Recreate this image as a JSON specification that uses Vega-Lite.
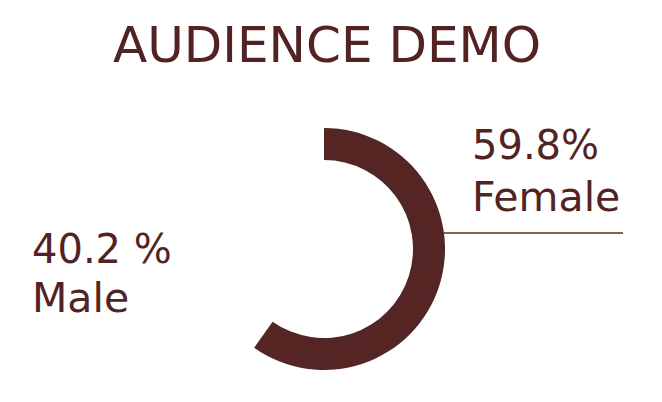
{
  "$schema": "https://vega.github.io/schema/vega-lite/v6.json",
  "width": 648,
  "height": 498,
  "autosize": "none",
  "padding": 0,
  "background": "white",
  "config": {"view": {"stroke": null}},
  "data": {"values": [
    {"gender": "Female", "pct": 59.8, "label": "59.8%"},
    {"gender": "Male", "pct": 40.2, "label": "40.2 %"}
  ]},
  "layer": [
    {
      "transform": [{"filter": "datum.gender == 'Female'"}],
      "mark": {"type": "arc", "radius": 121, "radius2": 89, "color": "#542525"},
      "encoding": {"theta": {"field": "pct", "type": "quantitative", "scale": {"domain": [0, 100]}}}
    },
    {
      "transform": [{"filter": "datum.gender == 'Female'"}],
      "mark": {"type": "arc", "radius": 100.5, "radius2": 99.6, "color": "#6a2616"},
      "encoding": {"theta": {"field": "pct", "type": "quantitative", "scale": {"domain": [0, 100]}}}
    },
    {
      "transform": [{"filter": "datum.gender == 'Female'"}],
      "mark": {"type": "arc", "radius": 111.5, "radius2": 110.6, "color": "#6a2616"},
      "encoding": {"theta": {"field": "pct", "type": "quantitative", "scale": {"domain": [0, 100]}}}
    },
    {
      "transform": [{"filter": "datum.gender == 'Female'"}],
      "mark": {"type": "rule", "color": "#6a2a18", "strokeWidth": 1.5},
      "encoding": {"x": {"value": 444}, "x2": {"value": 623}, "y": {"value": 233}}
    },
    {
      "transform": [{"filter": "datum.gender == 'Female'"}],
      "mark": {"type": "text", "text": "AUDIENCE DEMO", "x": 327, "y": 62, "align": "center", "baseline": "alphabetic", "font": "DejaVu Sans", "fontSize": 50, "color": "#532323"},
      "encoding": {}
    },
    {
      "transform": [{"filter": "datum.gender == 'Female'"}],
      "mark": {"type": "text", "x": 472, "y": 159, "align": "left", "baseline": "alphabetic", "font": "DejaVu Sans", "fontSize": 40, "color": "#532323"},
      "encoding": {"text": {"field": "label"}}
    },
    {
      "transform": [{"filter": "datum.gender == 'Female'"}],
      "mark": {"type": "text", "x": 472, "y": 211, "align": "left", "baseline": "alphabetic", "font": "DejaVu Sans", "fontSize": 41, "color": "#532323"},
      "encoding": {"text": {"field": "gender"}}
    },
    {
      "transform": [{"filter": "datum.gender == 'Male'"}],
      "mark": {"type": "text", "x": 32, "y": 263, "align": "left", "baseline": "alphabetic", "font": "DejaVu Sans", "fontSize": 40, "color": "#532323"},
      "encoding": {"text": {"field": "label"}}
    },
    {
      "transform": [{"filter": "datum.gender == 'Male'"}],
      "mark": {"type": "text", "x": 32, "y": 312, "align": "left", "baseline": "alphabetic", "font": "DejaVu Sans", "fontSize": 41, "color": "#532323"},
      "encoding": {"text": {"field": "gender"}}
    }
  ]
}
